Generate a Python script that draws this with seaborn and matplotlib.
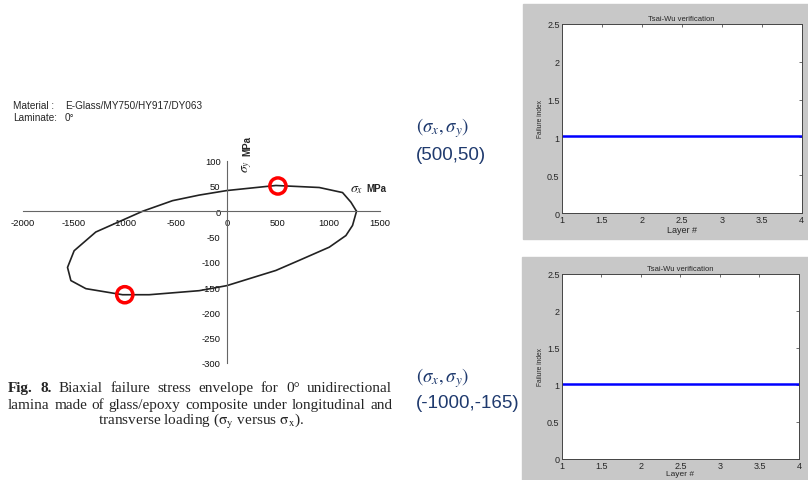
import numpy as np
import pandas as pd
import seaborn as sns
import matplotlib.pyplot as plt
from matplotlib.patches import Rectangle
from matplotlib.ticker import MultipleLocator, FormatStrFormatter

# failure envelope (MPa)
env_sx = [1270, 1231, 1166, 1003, 709, 480, 0, -271, -761, -1022, -1381, -1528, -1561,
          -1496, -1284, -826, -532, -271, 0, 480, 905, 1133, 1215, 1270]
env_sy = [0, -28, -48, -71, -97, -117, -147, -157, -165, -165, -153, -137, -111,
          -78, -41, 0, 21, 32, 41, 51, 47, 37, 18, 0]

# checked stress states
check_sx = [500, -1000]
check_sy = [50, -165]

# Tsai-Wu failure index per layer
layers = [1, 2, 3, 4]
fi_top = [1.02, 1.02, 1.02, 1.02]
fi_bottom = [1.01, 1.01, 1.01, 1.01]

sns.set_style("white")
plt.rcParams['font.family'] = ['Liberation Sans', 'DejaVu Sans']
plt.rcParams['mathtext.fontset'] = 'stix'
plt.rcParams['axes.unicode_minus'] = False

W, H = 808, 481
fig = plt.figure(figsize=(W / 100, H / 100), dpi=100)


def fx(x):
    return x / W


def fy(y):
    return 1 - y / H


# grey MATLAB figure backgrounds
fig.patches.append(Rectangle((fx(523), fy(240)), fx(808 - 523), (240 - 5) / H,
                             transform=fig.transFigure, color='#C8C8C8', zorder=-5))
fig.patches.append(Rectangle((fx(522), 0), fx(808 - 522), (481 - 258) / H,
                             transform=fig.transFigure, color='#C8C8C8', zorder=-5))

# ---- left: biaxial envelope ----
ax = fig.add_axes([fx(22.7), fy(364), fx(380 - 22.7), (364 - 161.7) / H])
ax.patch.set_alpha(0)
sns.lineplot(x=env_sx, y=env_sy, sort=False, estimator=None, color='#222222',
             lw=1.2, ax=ax)
sns.scatterplot(x=check_sx, y=check_sy, marker='o', s=135, facecolors='none',
                edgecolor='#FF0000', linewidth=2.5, ax=ax, zorder=5)
ax.set_xlim(-2000, 1500)
ax.set_ylim(-300, 100)
ax.spines['left'].set_position(('data', 0))
ax.spines['bottom'].set_position(('data', 0))
ax.spines[['top', 'right']].set_visible(False)
for s in ['left', 'bottom']:
    ax.spines[s].set_color('#666666')
    ax.spines[s].set_linewidth(0.8)
ax.xaxis.set_major_locator(MultipleLocator(500))
ax.xaxis.set_minor_locator(MultipleLocator(250))
ax.yaxis.set_major_locator(MultipleLocator(50))
ax.yaxis.set_minor_locator(MultipleLocator(25))
ax.tick_params(which='both', direction='inout', color='#666666', width=0.7,
               labelsize=6.8, labelcolor='#111111', pad=2)
ax.tick_params(which='major', length=5)
ax.tick_params(which='minor', length=3.5)

fig.text(fx(13), fy(106), "Material :", fontsize=7.2, va='center')
fig.text(fx(65), fy(106), "E-Glass/MY750/HY917/DY063", fontsize=7.2, va='center')
fig.text(fx(13), fy(118), "Laminate:", fontsize=7.2, va='center')
fig.text(fx(65), fy(118), "0°", fontsize=7.2, va='center')
fig.text(fx(350), fy(189), r"$\sigma_x$", fontsize=10, va='center')
fig.text(fx(366), fy(189), "MPa", fontsize=7, va='center', fontweight='bold')
fig.text(fx(247), fy(166), r"$\sigma_y$", fontsize=10, va='center',
         ha='center', rotation=90)
fig.text(fx(247), fy(146), "MPa", fontsize=7, va='center', ha='center',
         rotation=90, fontweight='bold')

# ---- caption (justified lines) ----
renderer = fig.canvas.get_renderer()
cap_font = ['Liberation Serif', 'DejaVu Serif']


def justify(words, y, x0, x1, size=11):
    texts = []
    for w, bold in words:
        texts.append(fig.text(0, fy(y), w, fontsize=size, va='center',
                              family=cap_font,
                              fontweight='bold' if bold else 'normal'))
    widths = [t.get_window_extent(renderer).width for t in texts]
    gap = (x1 - x0 - sum(widths)) / (len(texts) - 1)
    x = x0
    for t, w in zip(texts, widths):
        t.set_x(fx(x))
        x += w + gap


line1 = [("Fig.", True), ("8.", True)] + [(w, False) for w in
         "Biaxial failure stress envelope for 0° unidirectional".split()]
line2 = [(w, False) for w in
         "lamina made of glass/epoxy composite under longitudinal and".split()]
justify(line1, 389, 8, 392)
justify(line2, 405.5, 8, 392)
fig.text(fx(201), fy(421.5),
         r"transverse loading ($\mathrm{\sigma_y}$ versus $\mathrm{\sigma_x}$).",
         fontsize=11, va='center', ha='center', family=cap_font)

# ---- middle annotations ----
blue = '#1F3A6E'
fig.text(fx(416), fy(128), r"$(\sigma_x, \sigma_y)$", fontsize=13.5, color=blue,
         va='center')
fig.text(fx(416), fy(155), "(500,50)", fontsize=13.5, color=blue, va='center')
fig.text(fx(416), fy(378), r"$(\sigma_x, \sigma_y)$", fontsize=13.5, color=blue,
         va='center')
fig.text(fx(416), fy(404), "(-1000,-165)", fontsize=13.5, color=blue, va='center')

# ---- right: Tsai-Wu verification ----
panels = [(fi_top, [fx(561.7), fy(214), fx(801.7 - 561.7), (214 - 25) / H], 0.5, 6.5),
          (fi_bottom, [fx(561.7), fy(459.5), fx(799 - 561.7), (459.5 - 275) / H], 0, 6)]
for fi, rect, lp, fs in panels:
    a = fig.add_axes(rect)
    a.set_facecolor('white')
    sns.lineplot(x=layers, y=fi, color='#0000FF', lw=1.8, ax=a)
    a.set_xlim(1, 4)
    a.set_ylim(0, 2.5)
    a.xaxis.set_major_locator(MultipleLocator(0.5))
    a.yaxis.set_major_locator(MultipleLocator(0.5))
    a.xaxis.set_major_formatter(FormatStrFormatter('%g'))
    a.yaxis.set_major_formatter(FormatStrFormatter('%g'))
    a.tick_params(direction='in', top=True, right=True, length=2.5, width=0.5,
                  labelsize=6.5, pad=1.5, color='#333333')
    for s in a.spines.values():
        s.set_color('#444444')
        s.set_linewidth(0.7)
    a.set_title("Tsai-Wu verification", fontsize=5.5, pad=3)
    a.set_xlabel("Layer #", fontsize=fs, labelpad=lp)
    a.set_ylabel("Failure index", fontsize=4.8, labelpad=2)

fig.savefig("out.png", dpi=100, facecolor='white')
